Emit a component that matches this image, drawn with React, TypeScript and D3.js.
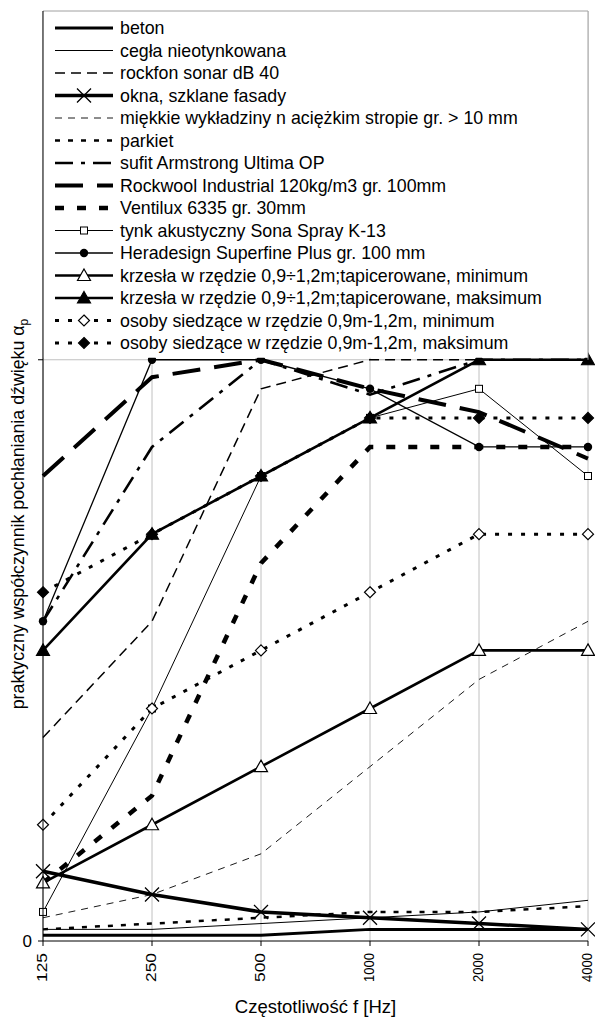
import React from 'react';
import * as d3 from 'd3';

// frequency bands (category axis)
const freqs = ['125', '250', '500', '1000', '2000', '4000'];

// absorption coefficients
const beton = [0.01, 0.01, 0.01, 0.02, 0.02, 0.02];
const cegla = [0.02, 0.02, 0.03, 0.04, 0.05, 0.07];
const rockfon = [0.35, 0.55, 0.95, 1.0, 1.0, 1.0];
const okna = [0.12, 0.08, 0.05, 0.04, 0.03, 0.02];
const wykladziny = [0.04, 0.08, 0.15, 0.3, 0.45, 0.55];
const parkiet = [0.02, 0.03, 0.04, 0.05, 0.05, 0.06];
const armstrong = [0.55, 0.85, 1.0, 0.94, 1.0, 1.0];
const rockwool = [0.8, 0.97, 1.0, 0.95, 0.91, 0.83];
const ventilux = [0.1, 0.25, 0.65, 0.85, 0.85, 0.85];
const tynk = [0.05, 0.4, 0.8, 0.9, 0.95, 0.8];
const heradesign = [0.55, 1.0, 1.0, 0.95, 0.85, 0.85];
const krzeslaMin = [0.1, 0.2, 0.3, 0.4, 0.5, 0.5];
const krzeslaMax = [0.5, 0.7, 0.8, 0.9, 1.0, 1.0];
const osobyMin = [0.2, 0.4, 0.5, 0.6, 0.7, 0.7];
const osobyMax = [0.6, 0.7, 0.8, 0.9, 0.9, 0.9];

const names = [
  'beton',
  'cegła nieotynkowana',
  'rockfon sonar dB 40',
  'okna, szklane fasady',
  'miękkie wykładziny n aciężkim stropie gr. > 10 mm',
  'parkiet',
  'sufit Armstrong Ultima OP',
  'Rockwool Industrial 120kg/m3 gr. 100mm',
  'Ventilux 6335 gr. 30mm',
  'tynk akustyczny Sona Spray K-13',
  'Heradesign Superfine Plus gr. 100 mm',
  'krzesła w rzędzie 0,9÷1,2m;tapicerowane, minimum',
  'krzesła w rzędzie 0,9÷1,2m;tapicerowane, maksimum',
  'osoby siedzące w rzędzie 0,9m-1,2m, minimum',
  'osoby siedzące w rzędzie 0,9m-1,2m, maksimum',
];

const yTicks = [0, 1];

type Marker = 'none' | 'x' | 'square' | 'circle' | 'triOpen' | 'triFill' | 'diaOpen' | 'diaFill';

const series = [
  { values: beton, width: 3, dash: null, marker: 'none' },
  { values: cegla, width: 1, dash: null, marker: 'none' },
  { values: rockfon, width: 1.5, dash: '10,6', marker: 'none' },
  { values: okna, width: 3.5, dash: null, marker: 'x' },
  { values: wykladziny, width: 0.9, dash: '7,6', marker: 'none' },
  { values: parkiet, width: 2.5, dash: '5,8', marker: 'none' },
  { values: armstrong, width: 2.6, dash: '18,8,4,8', marker: 'none' },
  { values: rockwool, width: 4, dash: '28,14', marker: 'none' },
  { values: ventilux, width: 4.5, dash: '9,13', marker: 'none' },
  { values: tynk, width: 1, dash: null, marker: 'square' },
  { values: heradesign, width: 1.3, dash: null, marker: 'circle' },
  { values: krzeslaMin, width: 2.6, dash: null, marker: 'triOpen' },
  { values: krzeslaMax, width: 2.6, dash: null, marker: 'triFill' },
  { values: osobyMin, width: 3, dash: '4,9', marker: 'diaOpen' },
  { values: osobyMax, width: 3, dash: '4,9', marker: 'diaFill' },
].map((s, i) => ({ ...s, name: names[i], marker: s.marker as Marker }));

const W = 595;
const H = 1020;
const plot = { left: 43, right: 588, top: 11, bottom: 941 };
const font = '"Liberation Sans", Arial, sans-serif';

const MarkerShape = ({ type, x, y }: { type: Marker; x: number; y: number }) => {
  switch (type) {
    case 'x':
      return (
        <path d={`M${x - 7},${y - 7}L${x + 7},${y + 7}M${x - 7},${y + 7}L${x + 7},${y - 7}`}
          stroke="#000" strokeWidth={1.3} fill="none" />
      );
    case 'square':
      return <rect x={x - 3.5} y={y - 3.5} width={7} height={7} fill="#fff" stroke="#000" strokeWidth={1} />;
    case 'circle':
      return <circle cx={x} cy={y} r={4.2} fill="#000" />;
    case 'triOpen':
    case 'triFill':
      return (
        <path d={`M${x},${y - 6.5}L${x + 6.5},${y + 5}L${x - 6.5},${y + 5}Z`}
          fill={type === 'triFill' ? '#000' : '#fff'} stroke="#000" strokeWidth={1.2} />
      );
    case 'diaOpen':
    case 'diaFill':
      return (
        <path d={`M${x},${y - 5.5}L${x + 5.5},${y}L${x},${y + 5.5}L${x - 5.5},${y}Z`}
          fill={type === 'diaFill' ? '#000' : '#fff'} stroke="#000" strokeWidth={1.2} />
      );
    default:
      return null;
  }
};

export default function App() {
  const x = d3.scalePoint<string>().domain(freqs).range([plot.left, plot.right]);
  const y = d3.scaleLinear().domain([0, 1.6]).range([plot.bottom, plot.top]);

  const line = d3
    .line<number>()
    .x((_, i) => x(freqs[i]) as number)
    .y((d) => y(d));

  const legendX0 = 55;
  const legendX1 = 113;
  const legendTop = 28;
  const legendStep = 22.5;

  return (
    <svg width={W} height={H} style={{ position: 'absolute', left: 0, top: 0, background: '#fff' }}
      fontFamily={font}>
      <rect width={W} height={H} fill="#fff" />

      {/* gridlines */}
      {freqs.map((f) => (
        <line key={f} x1={x(f)} x2={x(f)} y1={plot.top} y2={plot.bottom} stroke="#c0c0c0" strokeWidth={1} />
      ))}
      {yTicks.filter((t) => t > 0).map((t) => (
        <line key={t} x1={plot.left} x2={plot.right} y1={y(t)} y2={y(t)} stroke="#c0c0c0" strokeWidth={1} />
      ))}

      {/* series */}
      {series.map((s) => (
        <g key={s.name}>
          <path d={line(s.values) || ''} fill="none" stroke="#000" strokeWidth={s.width}
            strokeDasharray={s.dash || undefined} />
          {s.values.map((v, i) => (
            <MarkerShape key={i} type={s.marker} x={x(freqs[i]) as number} y={y(v)} />
          ))}
        </g>
      ))}

      {/* legend */}
      <rect x={plot.left} y={plot.top} width={plot.right - plot.left} height={y(1) - plot.top - 2} fill="#fff" />
      <line x1={plot.left} x2={plot.right} y1={plot.top} y2={plot.top} stroke="#a0a0a0" strokeWidth={1} />
      <line x1={plot.right} x2={plot.right} y1={plot.top} y2={y(1)} stroke="#a0a0a0" strokeWidth={1} />
      {series.map((s, i) => {
        const ly = legendTop + i * legendStep;
        return (
          <g key={s.name}>
            <line x1={legendX0} x2={legendX1} y1={ly} y2={ly} stroke="#000" strokeWidth={s.width}
              strokeDasharray={s.dash || undefined} />
            <MarkerShape type={s.marker} x={(legendX0 + legendX1) / 2} y={ly} />
            <text x={legendX1 + 7} y={ly} dy="0.35em" fontSize={17.8} fill="#000">{s.name}</text>
          </g>
        );
      })}

      {/* axes */}
      <line x1={plot.left} x2={plot.left} y1={plot.top} y2={plot.bottom} stroke="#000" strokeWidth={1} />
      <line x1={plot.left} x2={plot.right} y1={plot.bottom} y2={plot.bottom} stroke="#000" strokeWidth={1} />
      {yTicks.map((t) => (
        <line key={t} x1={plot.left - 5} x2={plot.left} y1={y(t)} y2={y(t)} stroke="#000" />
      ))}
      <text x={32} y={y(0)} dy="0.36em" textAnchor="end" fontSize={17}>0</text>
      {freqs.map((f) => (
        <g key={f}>
          <line x1={x(f)} x2={x(f)} y1={plot.bottom} y2={plot.bottom + 5} stroke="#000" />
          <text transform={`translate(${x(f)},${plot.bottom + 12}) rotate(-90)`} textAnchor="end"
            dy="0.25em" fontSize={15} textLength={29} lengthAdjust="spacingAndGlyphs">{f}</text>
        </g>
      ))}

      {/* axis titles */}
      <text x={(plot.left + plot.right) / 2} y={1013} textAnchor="middle" fontSize={18.5}>
        Częstotliwość f  [Hz]
      </text>
      <text transform={`translate(24,${(plot.top + plot.bottom) / 2 + 38}) rotate(-90)`} textAnchor="middle"
        fontSize={17.8}>
        praktyczny współczynnik pochłaniania dźwięku α<tspan fontSize={12} dy="4">p</tspan>
      </text>
    </svg>
  );
}
